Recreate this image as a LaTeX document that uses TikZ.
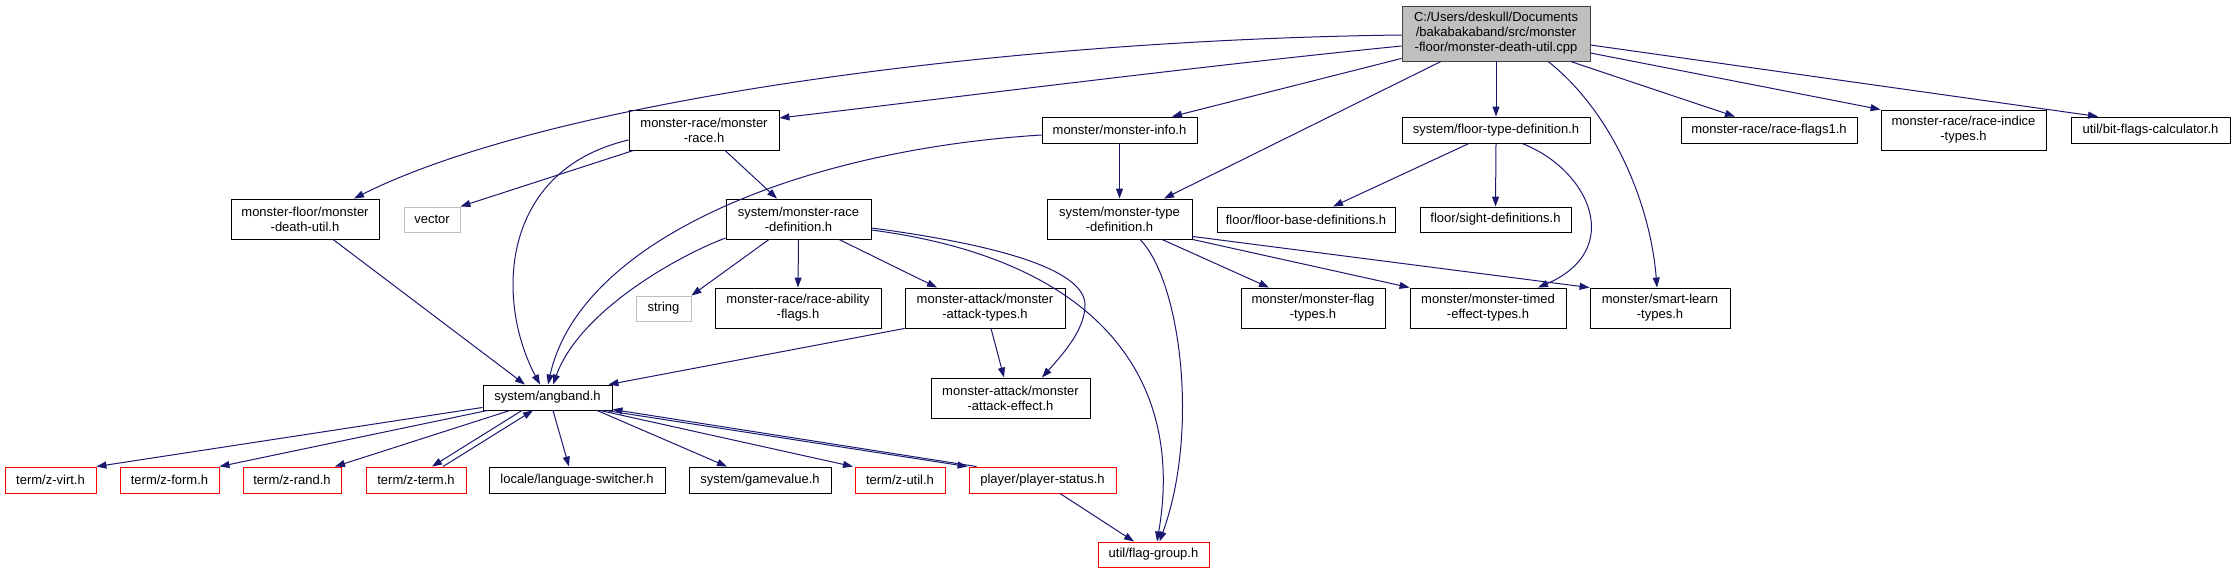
\documentclass[tikz,border=0pt]{standalone}
\usepackage{fontspec}
\setmainfont{Liberation Sans}
\usetikzlibrary{arrows.meta,calc}
\definecolor{edgecol}{HTML}{191970}
\definecolor{mainfill}{HTML}{BFBFBF}
\definecolor{graybd}{HTML}{BFBFBF}
\definecolor{redbd}{HTML}{FF0000}
\tikzset{
  box/.style={draw=black, fill=white, line width=0.9pt, inner sep=0pt, align=center,
    font=\fontsize{13}{15}\selectfont},
  gbox/.style={box, draw=graybd},
  rbox/.style={box, draw=redbd},
  wh/.style 2 args={minimum width=#1pt, minimum height=#2pt},
  edge/.style={draw=edgecol, line width=1pt, -{Triangle[length=10pt,width=7pt]}}
}
\begin{document}
\begin{tikzpicture}[x=1pt,y=-1pt]
\useasboundingbox[fill=white] (0,0) rectangle (2235,573);
% nodes
\node[box, fill=mainfill, draw=black!75, wh={188}{55}] (main) at (1496,33.5) {C:/Users/deskull/Documents\\/bakabakaband/src/monster\\-floor/monster-death-util.cpp};
\node[box, wh={150}{40}] (mr) at (704,130) {monster-race/monster\\-race.h};
\node[box, wh={155}{26}] (info) at (1119.5,130) {monster/monster-info.h};
\node[box, wh={188}{26}] (ftd) at (1496,130) {system/floor-type-definition.h};
\node[box, wh={176}{26}] (rf1) at (1769,130) {monster-race/race-flags1.h};
\node[box, wh={165}{40}] (rit) at (1963.5,130) {monster-race/race-indice\\-types.h};
\node[box, wh={159}{26}] (bfc) at (2150.5,130) {util/bit-flags-calculator.h};
\node[box, wh={148}{40}] (du) at (305,219) {monster-floor/monster\\-death-util.h};
\node[gbox, wh={56}{25}] (vec) at (432,219.5) {vector};
\node[box, wh={145}{40}] (mrd) at (798.5,219) {system/monster-race\\-definition.h};
\node[box, wh={145}{40}] (mtd) at (1119.5,219) {system/monster-type\\-definition.h};
\node[box, wh={178}{25}] (fbd) at (1306,219.5) {floor/floor-base-definitions.h};
\node[box, wh={151}{25}] (sd) at (1495.5,219.5) {floor/sight-definitions.h};
\node[gbox, wh={55}{25}] (str) at (663.5,308.5) {string};
\node[box, wh={166}{40}] (raf) at (798,308) {monster-race/race-ability\\-flags.h};
\node[box, wh={160}{40}] (mat) at (985,308) {monster-attack/monster\\-attack-types.h};
\node[box, wh={144}{40}] (mft) at (1313,308) {monster/monster-flag\\-types.h};
\node[box, wh={156}{40}] (mte) at (1488,308) {monster/monster-timed\\-effect-types.h};
\node[box, wh={140}{40}] (slt) at (1660,308) {monster/smart-learn\\-types.h};
\node[box, wh={159}{40}] (mae) at (1010.5,398) {monster-attack/monster\\-attack-effect.h};
\node[box, wh={129}{25}] (ang) at (547.5,397.5) {system/angband.h};
\node[rbox, wh={91}{26}] (zv) at (50.5,480) {term/z-virt.h};
\node[rbox, wh={99}{26}] (zf) at (169.5,480) {term/z-form.h};
\node[rbox, wh={98}{26}] (zr) at (292,480) {term/z-rand.h};
\node[rbox, wh={100}{26}] (zt) at (416,480) {term/z-term.h};
\node[box, wh={176}{26}] (ls) at (577,480) {locale/language-switcher.h};
\node[box, wh={142}{26}] (gv) at (760,480) {system/gamevalue.h};
\node[rbox, wh={90}{26}] (zu) at (900,480) {term/z-util.h};
\node[rbox, wh={147}{26}] (ps) at (1042.5,480) {player/player-status.h};
\node[rbox, wh={111}{25}] (fg) at (1153.5,554.5) {util/flag-group.h};
% edges from main
\draw[edge] ([yshift=-1.5pt]main.west) .. controls (1000,40) and (550,100) .. ([xshift=49pt]du.north);
\draw[edge] ([yshift=-12.5pt]main.west) .. controls (1200,66) and (950,98) .. ([yshift=12pt]mr.east);
\draw[edge] ([yshift=3pt]main.south west) -- ([xshift=52.5pt]info.north);
\draw[edge] ([xshift=-55pt]main.south) -- ([xshift=44.5pt]mtd.north);
\draw[edge] (main.south) -- (ftd.north);
\draw[edge] ([xshift=52pt]main.south) .. controls (1610,110) and (1650,200) .. ([xshift=-3pt]slt.north);
\draw[edge] ([xshift=-20pt]main.south east) -- ([xshift=-34pt]rf1.north);
\draw[edge] ([yshift=-19.5pt]main.east) -- (rit.north west);
\draw[edge] ([yshift=-11.5pt]main.east) -- ([xshift=-52.5pt]bfc.north);
% monster-race.h
\draw[edge] ([xshift=5pt]mr.south west) -- (vec.north east);
\draw[edge] ([yshift=-10pt]mr.west) .. controls (500,170) and (495,300) .. ([xshift=-7.5pt]ang.north);
\draw[edge] ([xshift=21pt]mr.south) -- ([xshift=-21.5pt]mrd.north);
% monster-info.h
\draw[edge] ([yshift=-5pt]info.west) .. controls (800,150) and (580,240) .. ([xshift=0.5pt]ang.north);
\draw[edge] (info.south) -- (mtd.north);
% monster-race-definition.h
\draw[edge] ([yshift=-19pt]mrd.west) .. controls (680,255) and (580,310) .. ([xshift=5.5pt]ang.north);
\draw[edge] ([xshift=-29.5pt]mrd.south) -- (str.north east);
\draw[edge] (mrd.south) -- (raf.north);
\draw[edge] ([xshift=40.5pt]mrd.south) -- ([xshift=-48pt]mat.north);
\draw[edge] ([yshift=-9pt]mrd.east) .. controls (1000,245) and (1085,270) .. (1085,305) .. controls (1085,330) and (1062,355) .. ([xshift=31.5pt]mae.north);
\draw[edge] ([yshift=-11pt]mrd.east) .. controls (1100,260) and (1185,380) .. ([xshift=3.5pt]fg.north);
% monster-attack-types.h
\draw[edge] (mat.south west) -- ([xshift=-4pt]ang.north east);
\draw[edge] ([xshift=6pt]mat.south) -- ([xshift=-6.5pt]mae.north);
% monster-type-definition.h
\draw[edge] ([xshift=20.5pt]mtd.south) .. controls (1180,280) and (1200,430) .. ([xshift=6pt]fg.north);
\draw[edge] ([xshift=42.5pt]mtd.south) -- ([xshift=-44pt]mft.north);
\draw[edge] (mtd.south east) -- (mte.north west);
\draw[edge] ([yshift=3pt]mtd.south east) -- (slt.north west);
% floor-type-definition.h
\draw[edge] ([xshift=-27pt]ftd.south) -- ([xshift=27pt]fbd.north);
\draw[edge] (ftd.south) -- (sd.north);
\draw[edge] ([xshift=26pt]ftd.south) .. controls (1590,170) and (1625,250) .. ([xshift=50pt]mte.north);
% death-util.h
\draw[edge] ([xshift=28pt]du.south) -- ([xshift=-22.5pt]ang.north);
% angband.h
\draw[edge] ([yshift=3pt]ang.south west) -- (zv.north east);
\draw[edge] ([xshift=5pt]ang.south west) -- (zf.north east);
\draw[edge] ([xshift=-37.5pt]ang.south) -- ([xshift=43pt]zr.north);
\draw[edge] ([xshift=-25.5pt]ang.south) -- ([xshift=16pt]zt.north);
\draw[edge] ([xshift=27pt]zt.north) -- ([xshift=-14.5pt]ang.south);
\draw[edge] ([xshift=5.5pt]ang.south) -- ([xshift=-8pt]ls.north);
\draw[edge] ([xshift=49.5pt]ang.south) -- ([xshift=-33pt]gv.north);
\draw[edge] ([xshift=52.5pt]ang.south) -- ([xshift=-47pt]zu.north);
\draw[edge] ([xshift=-7pt]ang.south east) -- ([xshift=-1pt]ps.north west);
\draw[edge] ([xshift=8pt]ps.north west) -- ([yshift=1pt]ang.south east);
% player-status.h
\draw[edge] ([xshift=17.5pt]ps.south) -- ([xshift=-19.5pt]fg.north);
\end{tikzpicture}
\end{document}
